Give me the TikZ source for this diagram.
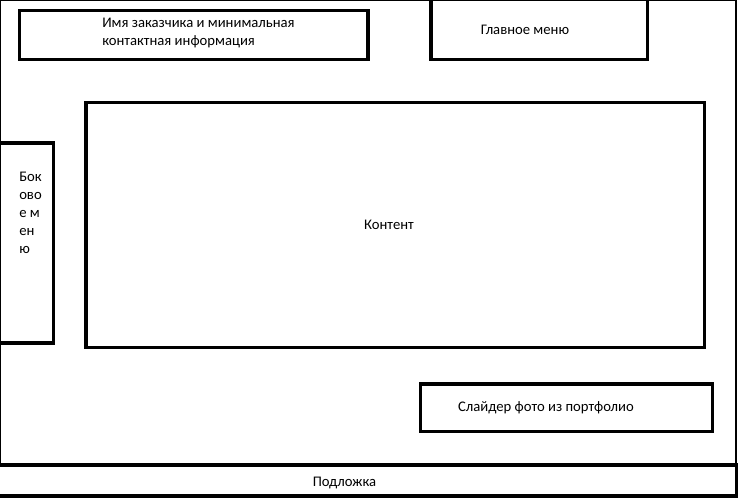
\documentclass[tikz,border=0pt]{standalone}
\usepackage{fontspec}
\setmainfont{Carlito}
\usetikzlibrary{fit}
\begin{document}
\begin{tikzpicture}[x=0.75pt,y=-0.75pt,
  box/.style={draw, line width=2.4pt, inner sep=0pt},
  frame/.style={draw, line width=0.8pt, inner sep=0pt},
  txt/.style={font=\fontsize{11pt}{13.5pt}\selectfont, inner sep=0pt, align=left}]
\useasboundingbox (0,0) rectangle (746,502);
\node[frame, fit={(0.5,0.5) (736,465)}] (page) {};
\node[box, fit={(19.5,10.5) (368,59.5)}] (name) {};
\node[box, fit={(431,-2) (647.5,59.5)}] (menu) {};
\node[box, fit={(86,102.5) (704.5,347.5)}] (content) {};
\node[box, fit={(-2,143) (53.5,343)}] (side) {};
\node[box, fit={(420.5,384) (712.5,431.5)}] (slider) {};
\node[box, fit={(-2,465) (736.5,496)}] (footer) {};
\node[txt, anchor=west] (nameT) at (102,33) {Имя заказчика и минимальная\\контактная информация};
\node[txt] (menuT) at (525,30) {Главное меню};
\node[txt] (contentT) at (389,225) {Контент};
\node[txt, anchor=north west] (sideT) at (19,172) {Бок\\ово\\е м\\ен\\ю};
\node[txt] (sliderT) at (546,408) {Слайдер фото из портфолио};
\node[txt] (footerT) at (344.5,483) {Подложка};
\end{tikzpicture}
\end{document}
